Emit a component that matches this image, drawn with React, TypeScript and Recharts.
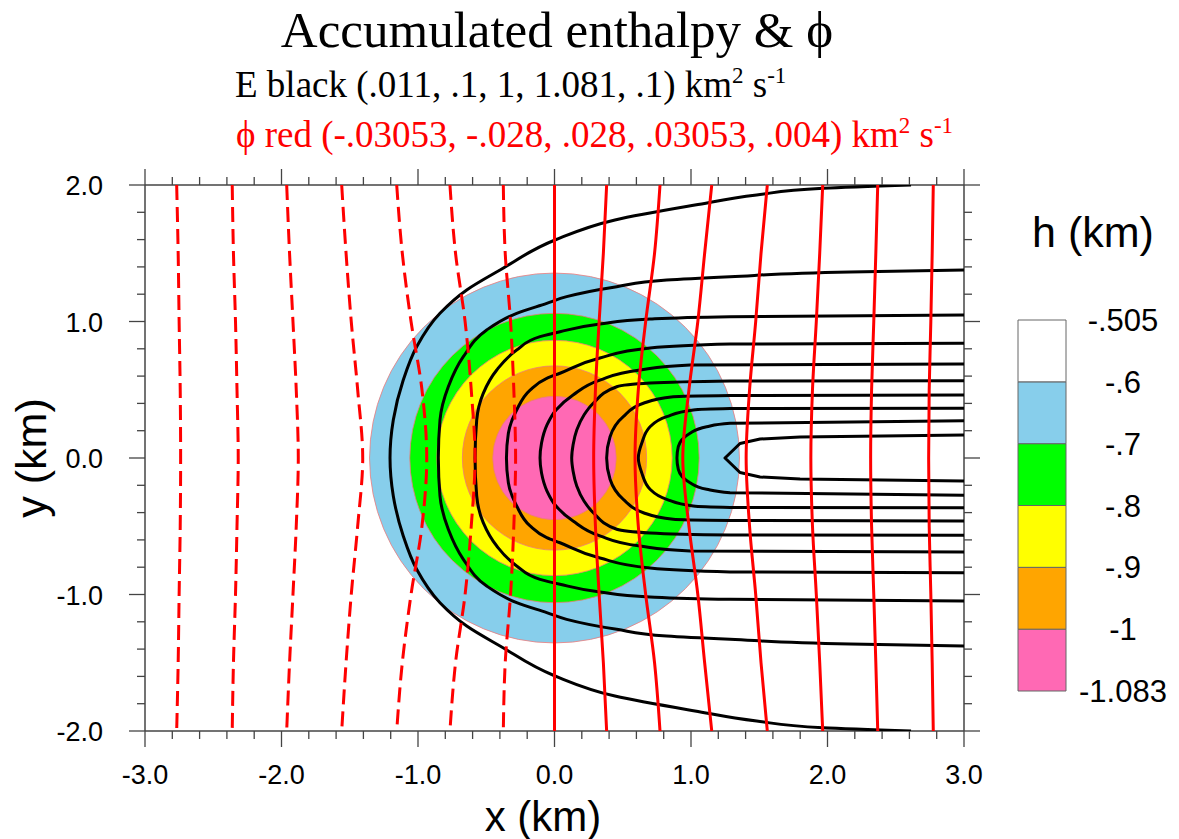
import React from "react";
import { ScatterChart, Scatter, XAxis, YAxis, Curve, BarChart, Bar } from "recharts";

// axis ticks (minor every 0.2, labelled every 1.0)
const X_TICKS = [-3, -2.8, -2.6, -2.4, -2.2, -2, -1.8, -1.6, -1.4, -1.2, -1, -0.8, -0.6, -0.4, -0.2, 0,
  0.2, 0.4, 0.6, 0.8, 1, 1.2, 1.4, 1.6, 1.8, 2, 2.2, 2.4, 2.6, 2.8, 3];
const X_LABELS = [-3, -2, -1, 0, 1, 2, 3];
const Y_TICKS = [-2, -1.8, -1.6, -1.4, -1.2, -1, -0.8, -0.6, -0.4, -0.2, 0, 0.2, 0.4, 0.6, 0.8, 1,
  1.2, 1.4, 1.6, 1.8, 2];
const Y_LABELS = [-2, -1, 0, 1, 2];

// h (km) shaded discs, outermost first
const DISC_CENTER = { x: 0, y: 0 };
const DISC_RADIUS = [1.355, 1.06, 0.862, 0.675, 0.452];
const DISC_COLORS = ["#87CEEB", "#00FF00", "#FFFF00", "#FFA500", "#FF69B4"];

// colorbar
const H_LABELS = ["-1.083", "-1", "-.9", "-.8", "-.7", "-.6", "-.505"];
const H_COLORS = ["#FF69B4", "#FFA500", "#FFFF00", "#00FF00", "#87CEEB", "#FFFFFF"];
const H_BINS = [1, 1, 1, 1, 1, 1];

// phi contours (red): x positions at shared y levels
const PHI_Y = [2, 1.5, 1, 0.5, 0, -0.5, -1, -1.5, -2];
const PHI_LEVELS = [-0.028, -0.024, -0.02, -0.016, -0.012, -0.008, -0.004, 0, 0.004, 0.008, 0.012, 0.016, 0.02, 0.024, 0.028];
const PHI_M028 = [-2.768, -2.757, -2.75, -2.742, -2.739, -2.742, -2.75, -2.757, -2.768];
const PHI_M024 = [-2.361, -2.352, -2.337, -2.326, -2.317, -2.326, -2.337, -2.352, -2.361];
const PHI_M020 = [-1.962, -1.941, -1.916, -1.892, -1.877, -1.892, -1.916, -1.941, -1.962];
const PHI_M016 = [-1.559, -1.527, -1.489, -1.442, -1.405, -1.442, -1.489, -1.527, -1.559];
const PHI_M012 = [-1.156, -1.115, -1.051, -0.971, -0.936, -0.971, -1.051, -1.115, -1.156];
const PHI_M008 = [-0.766, -0.725, -0.655, -0.61, -0.582, -0.61, -0.655, -0.725, -0.766];
const PHI_M004 = [-0.375, -0.361, -0.322, -0.298, -0.285, -0.298, -0.322, -0.361, -0.375];
const PHI_P000 = [0, 0, 0, 0, 0, 0, 0, 0, 0];
const PHI_P004 = [0.382, 0.358, 0.327, 0.3, 0.287, 0.3, 0.327, 0.358, 0.382];
const PHI_P008 = [0.773, 0.733, 0.668, 0.614, 0.59, 0.614, 0.668, 0.733, 0.773];
const PHI_P012 = [1.152, 1.1, 1.05, 0.985, 0.94, 0.985, 1.05, 1.1, 1.152];
const PHI_P016 = [1.559, 1.513, 1.474, 1.429, 1.404, 1.429, 1.474, 1.513, 1.559];
const PHI_P020 = [1.965, 1.943, 1.918, 1.89, 1.878, 1.89, 1.918, 1.943, 1.965];
const PHI_P024 = [2.368, 2.354, 2.339, 2.323, 2.316, 2.323, 2.339, 2.354, 2.368];
const PHI_P028 = [2.775, 2.767, 2.757, 2.745, 2.741, 2.745, 2.757, 2.767, 2.775];
const PHI_LINES = [PHI_M028, PHI_M024, PHI_M020, PHI_M016, PHI_M012, PHI_M008, PHI_M004, PHI_P000,
  PHI_P004, PHI_P008, PHI_P012, PHI_P016, PHI_P020, PHI_P024, PHI_P028];

// E contours (black): [x, y] from top right, round the left, to bottom right
const E_1 = [[2.612, 2.0], [1.967, 1.976], [1.481, 1.927], [1.029, 1.853], [0.443, 1.744], [0.004, 1.597],
  [-0.399, 1.377], [-0.643, 1.231], [-0.839, 1.06], [-1.01, 0.815], [-1.108, 0.571], [-1.181, 0.278], [-1.205, 0],
  [-1.181, -0.278], [-1.108, -0.571], [-1.01, -0.815], [-0.839, -1.06], [-0.643, -1.231], [-0.399, -1.377],
  [0.004, -1.597], [0.443, -1.744], [1.029, -1.853], [1.481, -1.927], [1.967, -1.976], [2.612, -2.0]];
const E_2 = [[3.0, 1.377], [2.165, 1.363], [1.286, 1.328], [0.822, 1.304], [0.456, 1.255], [0.089, 1.182],
  [-0.057, 1.133], [-0.277, 1.06], [-0.497, 0.938], [-0.668, 0.742], [-0.778, 0.522], [-0.839, 0.278], [-0.851, 0],
  [-0.839, -0.278], [-0.778, -0.522], [-0.668, -0.742], [-0.497, -0.938], [-0.277, -1.06], [-0.057, -1.133],
  [0.089, -1.182], [0.456, -1.255], [0.822, -1.304], [1.286, -1.328], [2.165, -1.363], [3.0, -1.377]];
const E_3 = [[3.0, 1.048], [1.286, 1.035], [0.7, 1.018], [0.333, 0.982], [0.04, 0.925], [-0.106, 0.889],
  [-0.277, 0.791], [-0.423, 0.645], [-0.522, 0.474], [-0.57, 0.278], [-0.582, 0],
  [-0.57, -0.278], [-0.522, -0.474], [-0.423, -0.645], [-0.277, -0.791], [-0.106, -0.889], [0.04, -0.925],
  [0.333, -0.982], [0.7, -1.018], [1.286, -1.035], [3.0, -1.048]];
const E_4 = [[3.0, 0.84], [1.286, 0.835], [0.7, 0.806], [0.333, 0.733], [0.04, 0.621], [-0.057, 0.584],
  [-0.179, 0.498], [-0.277, 0.352], [-0.338, 0.181], [-0.352, 0],
  [-0.338, -0.181], [-0.277, -0.352], [-0.179, -0.498], [-0.057, -0.584], [0.04, -0.621], [0.333, -0.733],
  [0.7, -0.806], [1.286, -0.835], [3.0, -0.84]];
const E_5 = [[3.0, 0.689], [0.993, 0.681], [0.626, 0.645], [0.333, 0.571], [0.136, 0.462], [0.011, 0.352],
  [-0.055, 0.242], [-0.095, 0.11], [-0.106, 0],
  [-0.095, -0.11], [-0.055, -0.242], [0.011, -0.352], [0.136, -0.462], [0.333, -0.571], [0.626, -0.645],
  [0.993, -0.681], [3.0, -0.689]];
const E_6 = [[3.0, 0.566], [1.286, 0.564], [0.7, 0.549], [0.456, 0.522], [0.284, 0.401], [0.216, 0.315],
  [0.163, 0.205], [0.136, 0.095], [0.126, 0],
  [0.136, -0.095], [0.163, -0.205], [0.216, -0.315], [0.284, -0.401], [0.456, -0.522], [0.7, -0.549],
  [1.286, -0.564], [3.0, -0.566]];
const E_7 = [[3.0, 0.462], [1.286, 0.458], [0.87, 0.449], [0.651, 0.401], [0.504, 0.303], [0.407, 0.156], [0.382, 0],
  [0.407, -0.156], [0.504, -0.303], [0.651, -0.401], [0.87, -0.449], [1.286, -0.458], [3.0, -0.462]];
const E_8 = [[3.0, 0.364], [1.286, 0.362], [1.017, 0.352], [0.822, 0.303], [0.7, 0.229], [0.639, 0.108], [0.614, 0],
  [0.639, -0.108], [0.7, -0.229], [0.822, -0.303], [1.017, -0.352], [1.286, -0.362], [3.0, -0.364]];
const E_9 = [[3.0, 0.273], [1.286, 0.254], [1.115, 0.229], [0.993, 0.181], [0.907, 0.083], [0.897, 0],
  [0.907, -0.083], [0.993, -0.181], [1.115, -0.229], [1.286, -0.254], [3.0, -0.273]];
const E_10 = [[3.0, 0.168], [1.799, 0.154], [1.506, 0.139], [1.359, 0.106], [1.249, 0],
  [1.359, -0.106], [1.506, -0.139], [1.799, -0.154], [3.0, -0.168]];
const E_LINES = [E_1, E_2, E_3, E_4, E_5, E_6, E_7, E_8, E_9];

const SANS = "'Liberation Sans', Arial, Helvetica, sans-serif";
const SERIF = "'Liberation Serif', 'Times New Roman', serif";
const AXIS = "#444";

const isMajor = (v: number, majors: number[]) => majors.some((m) => Math.abs(m - v) < 1e-6);
const toPts = (pairs: number[][]) => pairs.map(([x, y]) => ({ x, y }));
const noDot = () => <g />;

function BottomTick(props: any) {
  const { x, y, payload } = props;
  const major = isMajor(payload.value, X_LABELS);
  return (
    <g>
      <line x1={x} x2={x} y1={y} y2={y + (major ? 16 : 8)} stroke={AXIS} strokeWidth={1.3} />
      {major && (
        <text x={x} y={y + 53} textAnchor="middle" fontSize={27} fontFamily={SANS} fill="#000">
          {payload.value.toFixed(1)}
        </text>
      )}
    </g>
  );
}

function TopTick(props: any) {
  const { x, y, payload } = props;
  const major = isMajor(payload.value, X_LABELS);
  return <line x1={x} x2={x} y1={y} y2={y - (major ? 16 : 8)} stroke={AXIS} strokeWidth={1.3} />;
}

function LeftTick(props: any) {
  const { x, y, payload } = props;
  const major = isMajor(payload.value, Y_LABELS);
  return (
    <g>
      <line x1={x} x2={x - (major ? 16 : 8)} y1={y} y2={y} stroke={AXIS} strokeWidth={1.3} />
      {major && (
        <text x={x - 42} y={y + 10} textAnchor="end" fontSize={27} fontFamily={SANS} fill="#000">
          {payload.value.toFixed(1)}
        </text>
      )}
    </g>
  );
}

function RightTick(props: any) {
  const { x, y, payload } = props;
  const major = isMajor(payload.value, Y_LABELS);
  return <line x1={x} x2={x + (major ? 16 : 8)} y1={y} y2={y} stroke={AXIS} strokeWidth={1.3} />;
}

function ColorbarTick(props: any) {
  const { x, y, payload } = props;
  return (
    <text x={x + 57} y={y + 11} textAnchor="middle" fontSize={31} fontFamily={SANS} fill="#000">
      {H_LABELS[payload.value]}
    </text>
  );
}

const barRow = [Object.fromEntries([["name", "h"], ...H_BINS.map((v, i) => [`b${i}`, v])])];

export default function App() {
  const axisCommon = {
    type: "number" as const,
    allowDataOverflow: true,
    interval: 0 as const,
    tickSize: 0,
    tickMargin: 0,
    tickLine: false,
    axisLine: { stroke: AXIS, strokeWidth: 1.5 },
  };

  return (
    <div style={{ position: "absolute", left: 0, top: 0, width: 1179, height: 839, background: "#fff" }}>
      <div style={{ position: "absolute", left: 0, top: 0 }}>
        <ScatterChart width={1000} height={839} margin={{ top: 165, right: 16, bottom: 0, left: 0 }}>
          <XAxis {...axisCommon} dataKey="x" domain={[-3, 3]} ticks={X_TICKS} height={108}
            tick={(p: any) => <BottomTick {...p} />} />
          <XAxis {...axisCommon} xAxisId="top" orientation="top" dataKey="x" domain={[-3, 3]} ticks={X_TICKS}
            height={20} tick={(p: any) => <TopTick {...p} />} />
          <YAxis {...axisCommon} dataKey="y" domain={[-2, 2]} ticks={Y_TICKS} width={145}
            tick={(p: any) => <LeftTick {...p} />} />
          <YAxis {...axisCommon} yAxisId="right" orientation="right" dataKey="y" domain={[-2, 2]} ticks={Y_TICKS}
            width={20} tick={(p: any) => <RightTick {...p} />} />

          {DISC_RADIUS.map((r, i) => (
            <Scatter
              key={`disc${i}`}
              data={[DISC_CENTER, { x: DISC_CENTER.x + r, y: DISC_CENTER.y }]}
              isAnimationActive={false}
              shape={noDot}
              line={(p: any) => (
                <circle
                  cx={p.points[0].x}
                  cy={p.points[0].y}
                  r={Math.abs(p.points[1].x - p.points[0].x)}
                  fill={DISC_COLORS[i]}
                  stroke="#ec7a7a"
                  strokeWidth={0.8}
                />
              )}
            />
          ))}

          {E_LINES.map((pairs, i) => (
            <Scatter
              key={`e${i}`}
              data={toPts(pairs)}
              isAnimationActive={false}
              shape={noDot}
              line={(p: any) => (
                <Curve points={p.points} type="monotoneY" stroke="#000" strokeWidth={3} fill="none" />
              )}
            />
          ))}
          <Scatter
            data={toPts(E_10)}
            isAnimationActive={false}
            shape={noDot}
            line={(p: any) => (
              <Curve points={p.points} type="linear" stroke="#000" strokeWidth={3} fill="none" strokeLinejoin="round" />
            )}
          />

          {PHI_LINES.map((xs, i) => (
            <Scatter
              key={`phi${i}`}
              data={PHI_Y.map((y, j) => ({ x: xs[j], y }))}
              isAnimationActive={false}
              shape={noDot}
              line={(p: any) => (
                <Curve
                  points={p.points}
                  type="monotoneY"
                  stroke="#FF0000"
                  strokeWidth={3}
                  fill="none"
                  strokeDasharray={PHI_LEVELS[i] < 0 ? "15 7" : undefined}
                />
              )}
            />
          ))}
        </ScatterChart>
      </div>

      <div style={{ position: "absolute", left: 1017, top: 293 }}>
        <BarChart width={162} height={425} data={barRow} margin={{ top: 27, right: 0, bottom: 27, left: 1 }}
          barCategoryGap={0}>
          <XAxis dataKey="name" hide />
          <YAxis orientation="right" type="number" domain={[0, 6]} ticks={[0, 1, 2, 3, 4, 5, 6]} interval={0}
            width={113} axisLine={false} tickLine={false} tickSize={0} tickMargin={0}
            tick={(p: any) => <ColorbarTick {...p} />} />
          {H_COLORS.map((c, i) => (
            <Bar key={`b${i}`} dataKey={`b${i}`} stackId="h" fill={c} stroke="#666" strokeWidth={1}
              isAnimationActive={false} />
          ))}
        </BarChart>
      </div>

      <svg width={1179} height={839} style={{ position: "absolute", left: 0, top: 0, pointerEvents: "none" }}>
        <text x={557} y={47} textAnchor="middle" fontFamily={SERIF} fontSize={51} fill="#000">
          Accumulated enthalpy &amp; ϕ
        </text>
        <text x={235} y={97} fontFamily={SERIF} fontSize={37} fill="#000">
          E black (.011, .1, 1, 1.081, .1) km<tspan dy={-14} fontSize={23}>2</tspan>
          <tspan dy={14}> s</tspan><tspan dy={-14} fontSize={23}>-1</tspan>
        </text>
        <text x={236} y={147} fontFamily={SERIF} fontSize={37} fill="#FF0000">
          ϕ red (-.03053, -.028, .028, .03053, .004) km<tspan dy={-14} fontSize={23}>2</tspan>
          <tspan dy={14}> s</tspan><tspan dy={-14} fontSize={23}>-1</tspan>
        </text>
        <text x={543} y={831} textAnchor="middle" fontFamily={SANS} fontSize={42} fill="#000">
          x (km)
        </text>
        <text x={46} y={458} textAnchor="middle" fontFamily={SANS} fontSize={43} fill="#000"
          transform="rotate(-90 46 458)">
          y (km)
        </text>
        <text x={1093} y={247} textAnchor="middle" fontFamily={SANS} fontSize={43} fill="#000">
          h (km)
        </text>
      </svg>
    </div>
  );
}
